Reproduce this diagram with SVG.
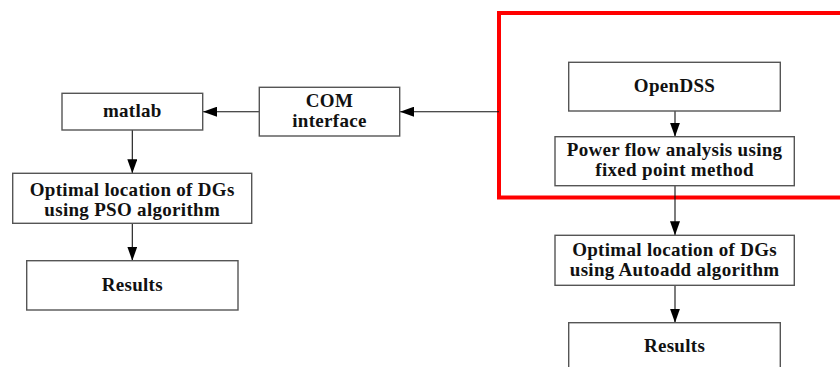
<svg xmlns="http://www.w3.org/2000/svg" width="840" height="367" viewBox="0 0 840 367">
<style>
.box{fill:#fff;stroke:#555;stroke-width:1.4}
.t{font-family:"Liberation Serif","Times New Roman",serif;font-weight:bold;font-size:19px;fill:#111;text-anchor:middle;letter-spacing:0.3px}
.c{stroke:#111;stroke-width:1.1;fill:none}
</style>
<defs>
<marker id="ah" markerWidth="14" markerHeight="10" refX="14" refY="5" orient="auto" markerUnits="userSpaceOnUse">
<path d="M0,0 L14,5 L0,10 Z" fill="#000"/>
</marker>
</defs>
<rect x="499" y="13" width="345" height="184.5" fill="none" stroke="#ff0000" stroke-width="4"/>
<g id="connectors">
<line class="c" x1="499" y1="111.7" x2="400" y2="111.7" marker-end="url(#ah)"/>
<line class="c" x1="259" y1="111.7" x2="203" y2="111.7" marker-end="url(#ah)"/>
<line class="c" x1="132.3" y1="130" x2="132.3" y2="173.3" marker-end="url(#ah)"/>
<line class="c" x1="132.3" y1="223.3" x2="132.3" y2="260.7" marker-end="url(#ah)"/>
<line class="c" x1="675" y1="111" x2="675" y2="136.7" marker-end="url(#ah)"/>
<line class="c" x1="675" y1="185.7" x2="675" y2="235.3" marker-end="url(#ah)"/>
<line class="c" x1="675" y1="285.3" x2="675" y2="322.7" marker-end="url(#ah)"/>
</g>
<g id="matlab"><rect class="box" x="62" y="93.3" width="140.7" height="36.7"/><text class="t" x="132.3" y="117">matlab</text></g>
<g id="com"><rect class="box" x="259.3" y="87.3" width="140.4" height="48.7"/><text class="t" x="329.5" y="106.5">COM</text><text class="t" x="329.5" y="126.5">interface</text></g>
<g id="pso"><rect class="box" x="12.7" y="173.3" width="239" height="50"/><text class="t" x="132.2" y="195.5">Optimal location of DGs</text><text class="t" x="132.2" y="215.5">using PSO algorithm</text></g>
<g id="results-left"><rect class="box" x="26.7" y="260.7" width="211.3" height="49.3"/><text class="t" x="132.3" y="290.5">Results</text></g>
<g id="opendss"><rect class="box" x="568.7" y="62.3" width="211.6" height="48.7"/><text class="t" x="674.5" y="92">OpenDSS</text></g>
<g id="powerflow"><rect class="box" x="555" y="136.7" width="239.3" height="49"/><text class="t" x="674.6" y="155.5">Power flow analysis using</text><text class="t" x="674.6" y="175.5">fixed point method</text></g>
<g id="autoadd"><rect class="box" x="555" y="235.3" width="239.3" height="50"/><text class="t" x="674.6" y="255.5">Optimal location of DGs</text><text class="t" x="674.6" y="275.5">using Autoadd algorithm</text></g>
<g id="results-right"><rect class="box" x="568.7" y="322.7" width="211.6" height="60"/><text class="t" x="674.5" y="352">Results</text></g>
</svg>
